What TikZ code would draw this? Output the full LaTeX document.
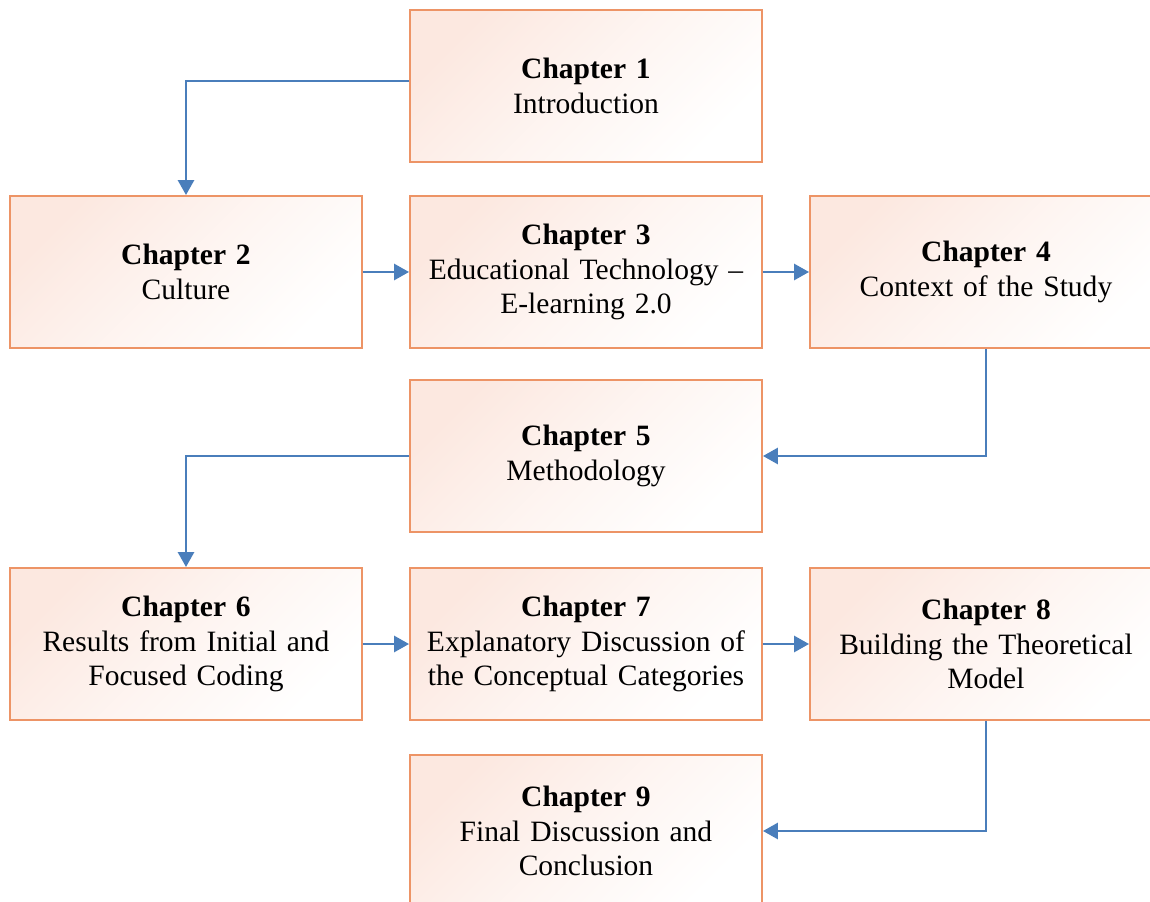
\documentclass[tikz,border=0pt]{standalone}
\usepackage{fontspec}
\setmainfont{Liberation Serif}
\usetikzlibrary{arrows.meta}
\definecolor{boxline}{RGB}{237,148,102}
\definecolor{boxtint}{RGB}{252,232,224}
\definecolor{flow}{RGB}{74,126,187}
\begin{document}
\begin{tikzpicture}[x=0.02cm,y=-0.02cm,
  chapbox/.style={draw=boxline, line width=1.1pt, rectangle,
    top color=boxtint, bottom color=white, middle color=boxtint!45!white,
    shading angle=45,
    minimum width=7.04cm, minimum height=3.04cm, text width=6.6cm,
    align=center, inner sep=0pt,
    font=\fontsize{16.8}{19.8}\selectfont},
  flowline/.style={draw=flow, line width=1.6pt,
    -{Triangle[length=0.3cm,width=0.32cm]}}]
\useasboundingbox (0,0) rectangle (1150,902);
\node[chapbox] (c1) at (586,86)  {\textbf{Chapter 1}\\Introduction};
\node[chapbox] (c2) at (186,272) {\textbf{Chapter 2}\\Culture};
\node[chapbox] (c3) at (586,272) {\textbf{Chapter 3}\\Educational Technology –\\E-learning 2.0};
\node[chapbox] (c4) at (986,272) {\textbf{Chapter 4}\\Context of the Study};
\node[chapbox] (c5) at (586,456) {\textbf{Chapter 5}\\Methodology};
\node[chapbox] (c6) at (186,644) {\textbf{Chapter 6}\\Results from Initial and\\Focused Coding};
\node[chapbox] (c7) at (586,644) {\textbf{Chapter 7}\\Explanatory Discussion of\\the Conceptual Categories};
\node[chapbox] (c8) at (986,644) {\textbf{Chapter 8}\\Building the Theoretical\\Model};
\node[chapbox] (c9) at (586,831) {\textbf{Chapter 9}\\Final Discussion and\\Conclusion};
\draw[flowline] ([yshift=2.8pt]c1.west) -| (c2.north);
\draw[flowline] (c2.east) -- (c3.west);
\draw[flowline] (c3.east) -- (c4.west);
\draw[flowline] (c4.south) |- (c5.east);
\draw[flowline] (c5.west) -| (c6.north);
\draw[flowline] (c6.east) -- (c7.west);
\draw[flowline] (c7.east) -- (c8.west);
\draw[flowline] (c8.south) |- (c9.east);
\end{tikzpicture}
\end{document}
